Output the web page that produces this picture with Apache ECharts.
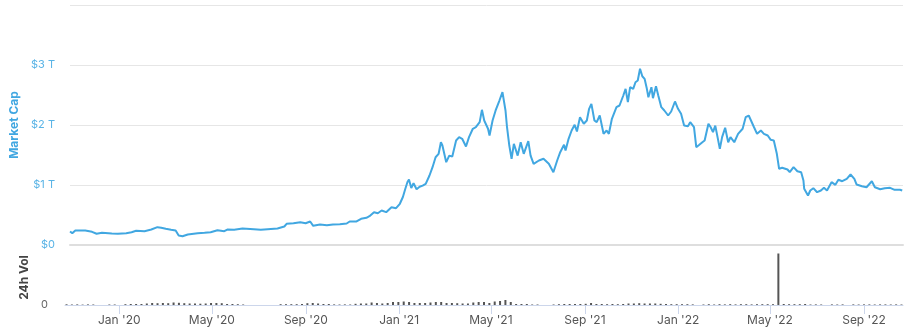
<!DOCTYPE html>
<html>
<head>
<meta charset="utf-8">
<script src="https://cdn.jsdelivr.net/npm/echarts@6/dist/echarts.min.js"></script>
<style>
  html, body { margin: 0; padding: 0; background: #fff; }
  #chart { width: 914px; height: 332px; }
</style>
</head>
<body>
<div id="chart"></div>
<script>
// Total crypto market cap (trillions USD)
const mcapDates = [
  '2019-10-22','2019-10-25','2019-10-29','2019-11-11','2019-11-20','2019-11-26','2019-12-03','2019-12-16','2019-12-24',
  '2020-01-04','2020-01-11','2020-01-17','2020-01-28','2020-02-06','2020-02-14','2020-02-19','2020-02-25','2020-03-03',
  '2020-03-09','2020-03-13','2020-03-18','2020-03-25','2020-04-07','2020-04-16','2020-04-24','2020-05-03','2020-05-12',
  '2020-05-16','2020-05-25','2020-06-05','2020-06-20','2020-06-29','2020-07-08','2020-07-21','2020-07-30','2020-08-02',
  '2020-08-11','2020-08-20','2020-08-27','2020-09-02','2020-09-06','2020-09-15','2020-09-24','2020-10-02','2020-10-11',
  '2020-10-20','2020-10-24','2020-11-02','2020-11-08','2020-11-15','2020-11-19','2020-11-25','2020-11-30','2020-12-05',
  '2020-12-11','2020-12-18','2020-12-24','2020-12-29',
  '2021-01-02','2021-01-05','2021-01-08','2021-01-10','2021-01-13','2021-01-16','2021-01-20','2021-01-24','2021-01-28',
  '2021-02-01','2021-02-06','2021-02-10','2021-02-14','2021-02-18','2021-02-21','2021-02-23','2021-02-28','2021-03-04',
  '2021-03-08','2021-03-13','2021-03-17','2021-03-21','2021-03-26','2021-03-30','2021-04-04','2021-04-08','2021-04-13',
  '2021-04-16','2021-04-19','2021-04-24','2021-04-26','2021-04-30','2021-05-04','2021-05-09','2021-05-13','2021-05-17',
  '2021-05-19','2021-05-22','2021-05-25','2021-05-28','2021-06-02','2021-06-06','2021-06-10','2021-06-16','2021-06-19',
  '2021-06-23','2021-06-30','2021-07-06','2021-07-13','2021-07-19','2021-07-24','2021-07-28','2021-08-02','2021-08-04',
  '2021-08-08','2021-08-12','2021-08-16','2021-08-19','2021-08-23','2021-08-28','2021-09-01','2021-09-04','2021-09-07',
  '2021-09-11','2021-09-14','2021-09-18','2021-09-23','2021-09-27','2021-09-30','2021-10-04','2021-10-10','2021-10-14',
  '2021-10-19','2021-10-22','2021-10-25','2021-10-28','2021-11-01','2021-11-04','2021-11-07','2021-11-10','2021-11-13',
  '2021-11-16','2021-11-19','2021-11-21','2021-11-25','2021-11-27','2021-12-01','2021-12-04','2021-12-08','2021-12-12',
  '2021-12-17','2021-12-21','2021-12-26','2021-12-30',
  '2022-01-03','2022-01-07','2022-01-12','2022-01-15','2022-01-20','2022-01-23','2022-01-27','2022-01-31','2022-02-03',
  '2022-02-08','2022-02-11','2022-02-14','2022-02-17','2022-02-20','2022-02-23','2022-02-26','2022-03-02','2022-03-06',
  '2022-03-09','2022-03-14','2022-03-19','2022-03-25','2022-03-29','2022-04-02','2022-04-05','2022-04-09','2022-04-13',
  '2022-04-18','2022-04-22','2022-04-27','2022-05-01','2022-05-05','2022-05-09','2022-05-12','2022-05-16','2022-05-23',
  '2022-05-26','2022-05-31','2022-06-05','2022-06-10','2022-06-13','2022-06-14','2022-06-19','2022-06-22','2022-06-26',
  '2022-07-01','2022-07-06','2022-07-10','2022-07-14','2022-07-20','2022-07-25','2022-07-29','2022-08-03','2022-08-09',
  '2022-08-14','2022-08-19','2022-08-22','2022-08-29','2022-09-04','2022-09-11','2022-09-15','2022-09-22','2022-09-28',
  '2022-10-05','2022-10-11','2022-10-18','2022-10-21'
];
const mcapValues = [
  0.225,0.197,0.242,0.242,0.220,0.187,0.203,0.192,0.187,
  0.197,0.213,0.237,0.230,0.258,0.297,0.287,0.270,0.253,
  0.242,0.158,0.147,0.175,0.197,0.203,0.213,0.247,0.230,
  0.258,0.253,0.275,0.263,0.253,0.263,0.275,0.308,0.353,
  0.363,0.380,0.363,0.392,0.320,0.342,0.330,0.342,0.347,
  0.358,0.392,0.392,0.437,0.453,0.480,0.547,0.530,0.575,
  0.547,0.630,0.613,0.687,
  0.800,0.930,1.050,1.090,0.950,1.030,0.930,0.970,0.990,
  1.020,1.158,1.297,1.463,1.520,1.713,1.658,1.380,1.490,
  1.475,1.742,1.797,1.770,1.642,1.797,1.937,1.963,2.047,
  2.253,2.075,1.937,1.825,2.075,2.242,2.408,2.547,2.242,
  1.963,1.658,1.437,1.687,1.490,1.713,1.520,1.730,1.490,
  1.353,1.408,1.437,1.353,1.213,1.408,1.547,1.670,1.575,
  1.770,1.908,2.003,1.892,2.130,2.020,2.075,2.270,2.353,
  2.075,2.047,2.158,1.853,1.908,1.853,2.103,2.297,2.325,
  2.492,2.603,2.380,2.630,2.603,2.713,2.742,2.937,2.813,
  2.770,2.603,2.463,2.630,2.447,2.647,2.492,2.297,2.242,
  2.158,2.225,2.392,2.270,
  2.187,1.992,1.980,2.047,1.963,1.630,1.670,1.713,1.742,
  2.020,1.963,1.880,1.990,1.797,1.603,1.797,1.953,1.713,
  1.797,1.713,1.853,1.937,2.130,2.158,2.075,1.963,1.853,
  1.908,1.853,1.825,1.753,1.742,1.520,1.270,1.287,1.258,
  1.213,1.297,1.230,1.213,1.075,0.937,0.825,0.908,0.947,
  0.880,0.908,0.953,0.908,1.047,1.003,1.087,1.063,1.103,
  1.175,1.103,1.008,0.980,0.963,1.063,0.963,0.930,0.947,
  0.953,0.920,0.920,0.908
];

// 24h volume, weekly samples (billions USD); null = no data
const volDates = [
  '2019-10-24','2019-10-31','2019-11-07','2019-11-14','2019-11-21','2019-11-28','2019-12-05','2019-12-12','2019-12-19','2019-12-26',
  '2020-01-02','2020-01-09','2020-01-16','2020-01-23','2020-01-30','2020-02-06','2020-02-13','2020-02-20','2020-02-27','2020-03-05',
  '2020-03-12','2020-03-19','2020-03-26','2020-04-02','2020-04-09','2020-04-16','2020-04-23','2020-04-30','2020-05-07','2020-05-14',
  '2020-05-21','2020-05-28','2020-06-04','2020-06-11','2020-06-18','2020-06-25','2020-07-02','2020-07-09','2020-07-16','2020-07-23',
  '2020-07-30','2020-08-06','2020-08-13','2020-08-20','2020-08-27','2020-09-03','2020-09-10','2020-09-17','2020-09-24','2020-10-01',
  '2020-10-08','2020-10-15','2020-10-22','2020-10-29','2020-11-05','2020-11-12','2020-11-19','2020-11-26','2020-12-03','2020-12-10',
  '2020-12-17','2020-12-24','2020-12-31',
  '2021-01-07','2021-01-14','2021-01-21','2021-01-28','2021-02-04','2021-02-11','2021-02-18','2021-02-25','2021-03-04','2021-03-11',
  '2021-03-18','2021-03-25','2021-04-01','2021-04-08','2021-04-15','2021-04-22','2021-04-29','2021-05-06','2021-05-13','2021-05-20',
  '2021-05-27','2021-06-03','2021-06-10','2021-06-17','2021-06-24','2021-07-01','2021-07-08','2021-07-15','2021-07-22','2021-07-29',
  '2021-08-05','2021-08-12','2021-08-19','2021-08-26','2021-09-02','2021-09-09','2021-09-16','2021-09-23','2021-09-30','2021-10-07',
  '2021-10-14','2021-10-21','2021-10-28','2021-11-04','2021-11-11','2021-11-18','2021-11-25','2021-12-02','2021-12-09','2021-12-16',
  '2021-12-23','2021-12-30',
  '2022-01-06','2022-01-13','2022-01-20','2022-01-27','2022-02-03','2022-02-10','2022-02-17','2022-02-24','2022-03-03','2022-03-10',
  '2022-03-17','2022-03-24','2022-03-31','2022-04-07','2022-04-14','2022-04-21','2022-04-28','2022-05-05','2022-05-12','2022-05-19',
  '2022-05-26','2022-06-02','2022-06-09','2022-06-16','2022-06-23','2022-06-30','2022-07-07','2022-07-14','2022-07-21','2022-07-28',
  '2022-08-04','2022-08-11','2022-08-18','2022-08-25','2022-09-01','2022-09-08','2022-09-15','2022-09-22','2022-09-29','2022-10-06',
  '2022-10-13','2022-10-20'
];
const volValues = [
  35,25,30,20,30,25,null,null,25,25,
  null,40,50,50,50,75,100,90,100,90,
  125,110,90,75,75,65,75,100,100,90,
  50,50,40,25,null,null,null,null,null,null,
  40,40,40,40,50,90,100,75,50,50,
  30,25,30,25,60,75,75,125,100,75,
  100,150,150,
  175,150,100,100,100,125,150,150,100,100,
  90,75,75,125,150,150,100,175,200,250,
  150,50,50,50,25,25,null,null,25,40,
  50,50,50,50,60,100,50,50,40,50,
  40,50,75,75,90,75,75,75,60,50,
  40,40,
  40,40,30,null,25,40,25,40,30,40,
  30,40,40,30,40,40,40,40,2575,50,
  40,40,40,50,25,30,25,null,30,25,
  30,null,30,25,30,30,25,30,30,25,
  30,25
];

// Dates that carry an x-axis tick and label
const tickDates = ['2020-01-01','2020-05-01','2020-09-01','2021-01-01','2021-05-01','2021-09-01','2022-01-01','2022-05-01','2022-09-01'];
const capTicks = [0, 1, 2, 3, 4];

const X_MIN = '2019-10-22';
const X_MAX = '2022-10-22';
const MONTHS = ['Jan','Feb','Mar','Apr','May','Jun','Jul','Aug','Sep','Oct','Nov','Dec'];
const BLUE = '#41a7e1';
const FONT = 'Inter, "Noto Sans", sans-serif';

const toStamp = d => +new Date(d + 'T00:00:00');
const tickStamps = tickDates.map(toStamp);

const chart = echarts.init(document.getElementById('chart'), null, { renderer: 'canvas' });

chart.setOption({
  animation: false,
  textStyle: { fontFamily: FONT },
  grid: [
    { left: 65, right: 11, top: 5, height: 240 },
    { left: 65, right: 11, top: 250, height: 55 }
  ],
  xAxis: [
    {
      type: 'value', gridIndex: 0, min: toStamp(X_MIN), max: toStamp(X_MAX),
      axisLine: { show: true, onZero: false, lineStyle: { color: '#dedede', width: 2 } },
      axisTick: { show: false }, axisLabel: { show: false }, splitLine: { show: false }
    },
    {
      type: 'value', gridIndex: 1, min: toStamp(X_MIN), max: toStamp(X_MAX),
      axisLine: { show: true, onZero: false, lineStyle: { color: '#ccd6eb', width: 1 } },
      axisTick: { show: true, length: 9, customValues: tickStamps, lineStyle: { color: '#ccd6eb' } },
      axisLabel: {
        customValues: tickStamps, color: '#555', fontSize: 12, fontFamily: FONT, margin: 9,
        formatter: v => { const d = new Date(v); return MONTHS[d.getMonth()] + " '" + String(d.getFullYear()).slice(2); }
      },
      splitLine: { show: false }
    }
  ],
  yAxis: [
    {
      type: 'value', gridIndex: 0, min: capTicks[0], max: capTicks[capTicks.length - 1], interval: 1,
      name: 'Market Cap', nameLocation: 'middle', nameGap: 50,
      nameTextStyle: { color: BLUE, fontWeight: 'bold', fontSize: 12, fontFamily: FONT },
      axisLine: { show: false }, axisTick: { show: false },
      axisLabel: {
        color: '#5ab4e6', fontSize: 11, margin: 15, fontFamily: FONT, showMaxLabel: false,
        formatter: v => v === 0 ? '$0' : '$' + v + ' T'
      },
      splitLine: { lineStyle: { color: '#e6e6e6', width: 1 } }
    },
    {
      type: 'value', gridIndex: 1, min: 0, max: 2750, interval: 2750,
      name: '24h Vol', nameLocation: 'middle', nameGap: 27,
      nameTextStyle: { color: '#444', fontWeight: 'bold', fontSize: 12, fontFamily: FONT },
      axisLine: { show: false }, axisTick: { show: false },
      axisLabel: { color: '#666', fontSize: 11, margin: 17, fontFamily: FONT, showMaxLabel: false },
      splitLine: { show: false }
    }
  ],
  series: [
    {
      type: 'line', xAxisIndex: 0, yAxisIndex: 0,
      data: mcapDates.map((d, i) => [toStamp(d), mcapValues[i]]),
      showSymbol: false, symbol: 'none',
      lineStyle: { color: BLUE, width: 2 },
      z: 3
    },
    {
      type: 'bar', xAxisIndex: 1, yAxisIndex: 1,
      data: volDates.map((d, i) => [toStamp(d), volValues[i]]),
      barWidth: 2,
      itemStyle: { color: '#555' }
    }
  ]
});
</script>
</body>
</html>
